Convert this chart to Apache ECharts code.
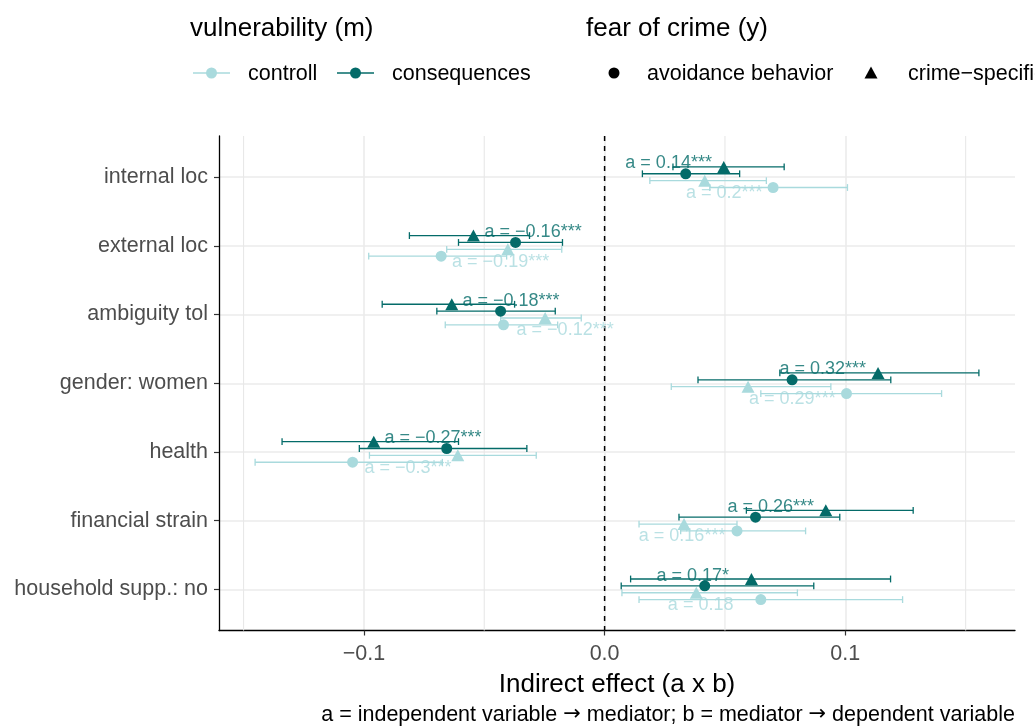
<!DOCTYPE html>
<html><head><meta charset="utf-8">
<script src="https://cdn.jsdelivr.net/npm/echarts@6/dist/echarts.min.js"></script>
<style>html,body{margin:0;padding:0;background:#fff}#c{width:1035px;height:727px}</style>
</head><body><div id="c"></div>
<script>
const categories = ['internal loc','external loc','ambiguity tol','gender: women','health','financial strain','household supp.: no'];
// consequences (m) x crime-specific (triangle)
const consTriEst = [0.0495, -0.0545, -0.0635, 0.1136, -0.0959, 0.0919, 0.0610];
const consTriLo  = [0.0284, -0.0811, -0.0924, 0.0728, -0.1340, 0.0589, 0.0108];
const consTriHi  = [0.0746, -0.0312, -0.0374, 0.1555, -0.0607, 0.1282, 0.1188];
// consequences (m) x avoidance behavior (circle)
const consCircEst = [0.0337, -0.0370, -0.0432, 0.0779, -0.0656, 0.0627, 0.0416];
const consCircLo  = [0.0157, -0.0607, -0.0697, 0.0388, -0.1019, 0.0309, 0.0069];
const consCircHi  = [0.0561, -0.0175, -0.0205, 0.1189, -0.0323, 0.0977, 0.0869];
// controll (m) x crime-specific (triangle)
const ctrlTriEst = [0.0416, -0.0402, -0.0247, 0.0596, -0.0610, 0.0330, 0.0381];
const ctrlTriLo  = [0.0188, -0.0656, -0.0432, 0.0277, -0.0977, 0.0143, 0.0072];
const ctrlTriHi  = [0.0672, -0.0178, -0.0097, 0.0940, -0.0284, 0.0550, 0.0801];
// controll (m) x avoidance behavior (circle)
const ctrlCircEst = [0.0700, -0.0679, -0.0420, 0.1005, -0.1047, 0.0550, 0.0649];
const ctrlCircLo  = [0.0437, -0.0980, -0.0662, 0.0649, -0.1452, 0.0316, 0.0143];
const ctrlCircHi  = [0.1009, -0.0407, -0.0195, 0.1400, -0.0674, 0.0835, 0.1238];
// a-path labels
const consLabels = ['a = 0.14***','a = −0.16***','a = −0.18***','a = 0.32***','a = −0.27***','a = 0.26***','a = 0.17*'];
const ctrlLabels = ['a = 0.2***','a = −0.19***','a = −0.12***','a = 0.29***','a = −0.3***','a = 0.16***','a = 0.18'];
const consLabelX = [0.0266, -0.0297, -0.0389, 0.0906, -0.0713, 0.0690, 0.0366];
const ctrlLabelX = [0.0497, -0.0432, -0.0164, 0.0780, -0.0817, 0.0322, 0.0399];
const xTicks = [-0.1, 0, 0.1];
const xMinorTicks = [-0.15, -0.05, 0.05, 0.15];
const catTicks = [1, 2, 3, 4, 5, 6, 7];

const DARK = '#046b69', LIGHT = '#a9dadd';
const FONT = '"Liberation Sans", Arial, sans-serif';
const OFF = {consTri: -0.15, consCirc: -0.05, ctrlTri: 0.05, ctrlCirc: 0.15, consLab: -0.2, ctrlLab: 0.23};

function errData(lo, hi, off) { return lo.map((l, i) => [l, hi[i], i + 1 + off]); }
function ptData(est, off) { return est.map((e, i) => [e, i + 1 + off]); }
function labData(xs, txt, off) { return xs.map((x, i) => ({value: [x, i + 1 + off], name: txt[i]})); }

function errSeries(lo, hi, off, color) {
  return {
    type: 'custom', z: 3, silent: true,
    data: errData(lo, hi, off),
    encode: {x: [0, 1], y: 2},
    renderItem: function (params, api) {
      const y = api.value(2);
      const p1 = api.coord([api.value(0), y]);
      const p2 = api.coord([api.value(1), y]);
      const cap = 3.4, st = {stroke: color, lineWidth: 1.3};
      return {type: 'group', children: [
        {type: 'line', shape: {x1: p1[0], y1: p1[1], x2: p2[0], y2: p2[1]}, style: st},
        {type: 'line', shape: {x1: p1[0], y1: p1[1] - cap, x2: p1[0], y2: p1[1] + cap}, style: st},
        {type: 'line', shape: {x1: p2[0], y1: p2[1] - cap, x2: p2[0], y2: p2[1] + cap}, style: st}
      ]};
    }
  };
}
function ptSeries(est, off, color, symbol, z) {
  return {
    type: 'scatter', z: z, silent: true,
    symbol: symbol, symbolSize: symbol === 'triangle' ? [13, 12] : 11,
    itemStyle: {color: color, opacity: 1},
    data: ptData(est, off)
  };
}
function labSeries(xs, txt, off, color) {
  return {
    type: 'scatter', z: 6, silent: true, symbolSize: 0,
    data: labData(xs, txt, off),
    label: {show: true, position: 'inside', formatter: p => p.name, color: color,
            fontFamily: FONT, fontSize: 18}
  };
}
function vLineSeries(xs, style, z) {
  return {
    type: 'custom', z: z, silent: true,
    data: xs.map(v => [v, 4]),
    renderItem: function (params, api) {
      const cs = params.coordSys;
      const p = api.coord([api.value(0), 4]);
      return {type: 'line', shape: {x1: p[0], y1: cs.y, x2: p[0], y2: cs.y + cs.height}, style: style};
    }
  };
}

const chart = echarts.init(document.getElementById('c'), null, {renderer: 'canvas'});
const fmtNum = v => (v < 0 ? '−' : '') + Math.abs(v).toFixed(1);

chart.setOption({
  animation: false,
  backgroundColor: '#ffffff',
  grid: {left: 219, right: 20, top: 136, bottom: 96.5},
  xAxis: {
    type: 'value', min: -0.1602, max: 0.1705,
    axisLine: {show: true, onZero: false, lineStyle: {color: '#000', width: 1.3}},
    axisTick: {show: true, customValues: xTicks, length: 5, lineStyle: {color: '#333', width: 1.2}},
    axisLabel: {customValues: xTicks, formatter: fmtNum, color: '#4d4d4d', fontFamily: FONT, fontSize: 21.5, margin: 13},
    splitLine: {show: true, lineStyle: {color: '#ebebeb', width: 1.6}},
    name: 'Indirect effect (a x b)', nameLocation: 'middle', nameGap: 41,
    nameTextStyle: {color: '#000', fontFamily: FONT, fontSize: 26}
  },
  yAxis: {
    type: 'value', inverse: true, min: 0.4, max: 7.6,
    axisLine: {show: true, onZero: false, lineStyle: {color: '#000', width: 1.3}},
    axisTick: {show: true, customValues: catTicks, length: 5, lineStyle: {color: '#333', width: 1.2}},
    axisLabel: {customValues: catTicks, formatter: v => categories[Math.round(v) - 1], color: '#4d4d4d',
                fontFamily: FONT, fontSize: 21.5, margin: 11, padding: [6, 0, 0, 0]},
    splitLine: {show: true, lineStyle: {color: '#ebebeb', width: 1.6}}
  },
  graphic: [
    {type: 'text', x: 190, y: 29, style: {text: 'vulnerability (m)', fill: '#000', font: '26px ' + FONT, verticalAlign: 'middle'}},
    {type: 'text', x: 586, y: 29, style: {text: 'fear of crime (y)', fill: '#000', font: '26px ' + FONT, verticalAlign: 'middle'}},
    {type: 'line', shape: {x1: 193, y1: 73, x2: 230, y2: 73}, style: {stroke: LIGHT, lineWidth: 1.4}},
    {type: 'circle', shape: {cx: 211.5, cy: 73, r: 5.5}, style: {fill: LIGHT}},
    {type: 'text', x: 248, y: 74, style: {text: 'controll', fill: '#000', font: '21.5px ' + FONT, verticalAlign: 'middle'}},
    {type: 'line', shape: {x1: 337, y1: 73, x2: 374, y2: 73}, style: {stroke: DARK, lineWidth: 1.4}},
    {type: 'circle', shape: {cx: 355.5, cy: 73, r: 5.5}, style: {fill: DARK}},
    {type: 'text', x: 392, y: 74, style: {text: 'consequences', fill: '#000', font: '21.5px ' + FONT, verticalAlign: 'middle'}},
    {type: 'circle', shape: {cx: 614, cy: 73, r: 5.5}, style: {fill: '#000'}},
    {type: 'text', x: 647, y: 74, style: {text: 'avoidance behavior', fill: '#000', font: '21.5px ' + FONT, verticalAlign: 'middle'}},
    {type: 'polygon', shape: {points: [[871, 66.5], [877.5, 78.5], [864.5, 78.5]]}, style: {fill: '#000'}},
    {type: 'text', x: 908, y: 74, style: {text: 'crime−specific fear', fill: '#000', font: '21.5px ' + FONT, verticalAlign: 'middle'}},
    {type: 'text', x: 1015, y: 715, style: {
      text: '{t|a = independent variable }{r|→}{t| mediator; b = mediator }{r|→}{t| dependent variable}',
      fill: '#000', align: 'right', verticalAlign: 'middle',
      rich: {t: {font: '21.5px ' + FONT, fill: '#000'}, r: {font: '21px "DejaVu Sans", sans-serif', fill: '#000'}}}}
  ],
  series: [
    vLineSeries(xMinorTicks, {stroke: '#e8e8e8', lineWidth: 1.1}, 1),
    vLineSeries([0], {stroke: '#000', lineWidth: 1.5, lineDash: [5, 5]}, 2),
    errSeries(ctrlCircLo, ctrlCircHi, OFF.ctrlCirc, LIGHT),
    errSeries(ctrlTriLo, ctrlTriHi, OFF.ctrlTri, LIGHT),
    errSeries(consCircLo, consCircHi, OFF.consCirc, DARK),
    errSeries(consTriLo, consTriHi, OFF.consTri, DARK),
    ptSeries(ctrlCircEst, OFF.ctrlCirc, LIGHT, 'circle', 4),
    ptSeries(ctrlTriEst, OFF.ctrlTri, LIGHT, 'triangle', 4),
    ptSeries(consCircEst, OFF.consCirc, DARK, 'circle', 5),
    ptSeries(consTriEst, OFF.consTri, DARK, 'triangle', 5),
    labSeries(ctrlLabelX, ctrlLabels, OFF.ctrlLab, LIGHT),
    labSeries(consLabelX, consLabels, OFF.consLab, DARK)
  ]
});
</script>
</body></html>
